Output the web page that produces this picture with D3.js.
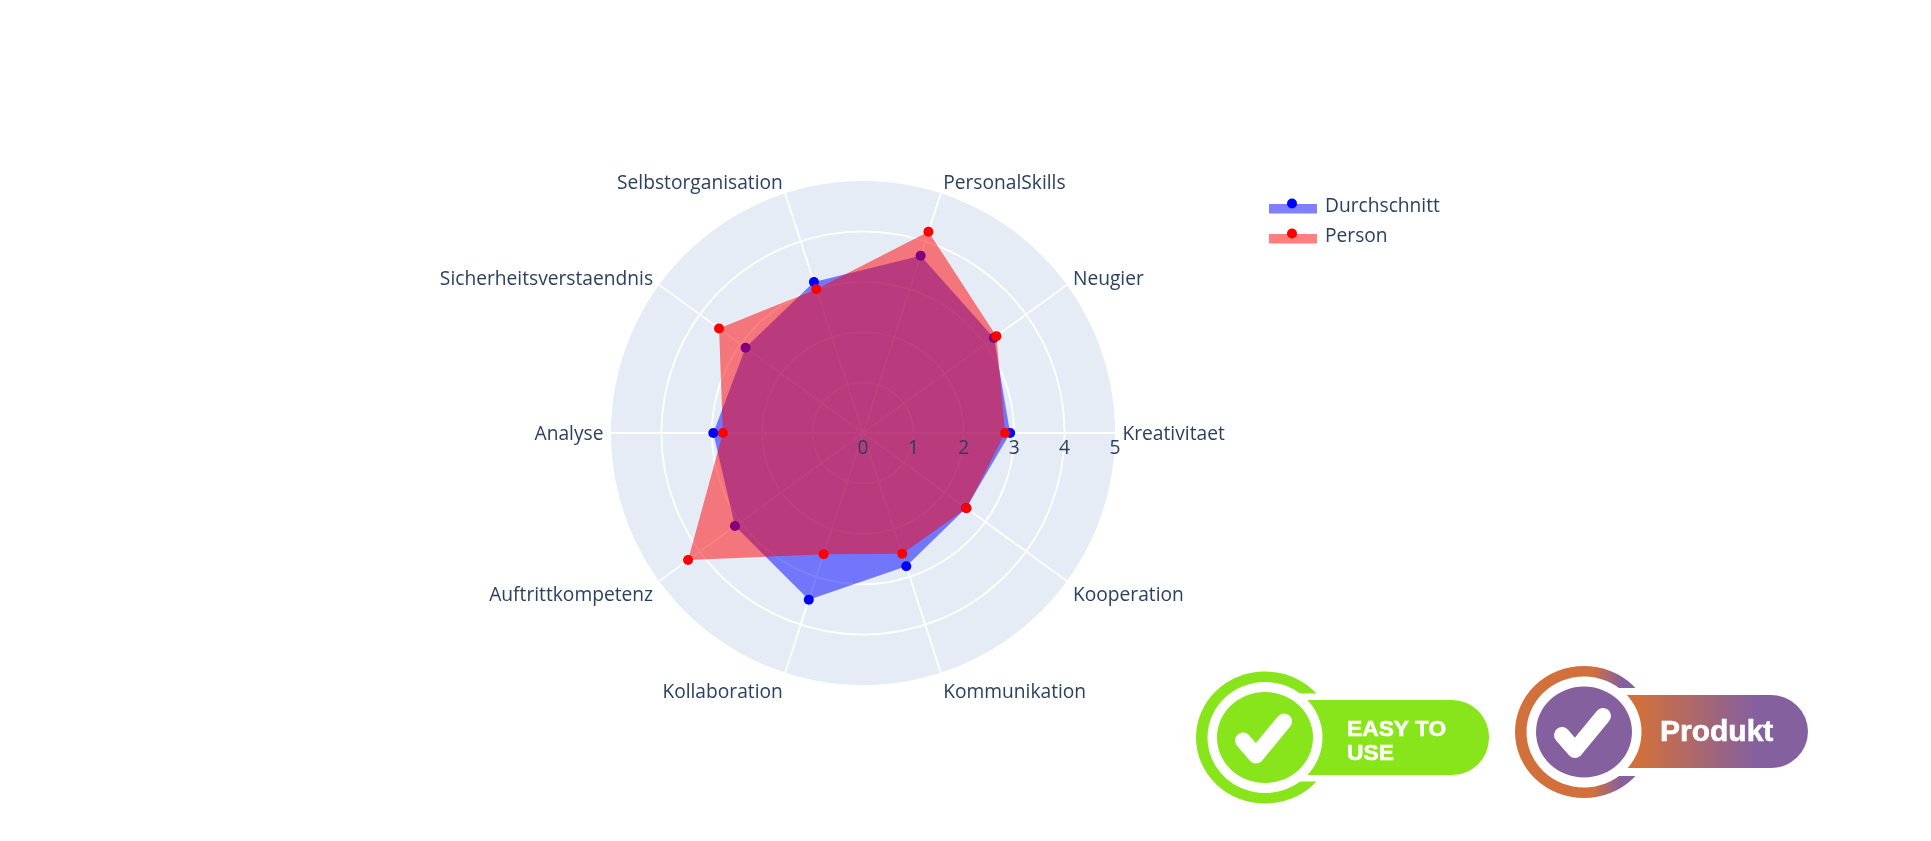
<!DOCTYPE HTML>
<head>
    <meta charset="utf-8">
    <script src="https://cdnjs.cloudflare.com/ajax/libs/d3/7.8.5/d3.min.js"></script>
</head>

<body>
    <svg width="1931" height="841"></svg>
</body>

<style>
body { margin: 0; background: #fff; }
svg { display: block; }
.label { font-family: "Open Sans", sans-serif; font-size: 19.2px; fill: #2a3f5f; }
.badgeText { font-family: "Liberation Sans", Arial, sans-serif; font-weight: bold; fill: #fff; stroke: #fff; stroke-width: 0.6px; }
</style>

<script>
    var categories = ["Kreativitaet", "Neugier", "PersonalSkills", "Selbstorganisation", "Sicherheitsverstaendnis",
        "Analyse", "Auftrittkompetenz", "Kollaboration", "Kommunikation", "Kooperation"];
    var durchschnitt = [2.92, 3.21, 3.70, 3.15, 2.88, 2.97, 3.14, 3.48, 2.78, 2.53];
    var person = [2.82, 3.27, 4.20, 3.00, 3.53, 2.78, 4.29, 2.53, 2.52, 2.54];
    var radialTicks = [0, 1, 2, 3, 4, 5];

    var cx = 863, cy = 433, R = 252;

    var svg = d3.select("svg");

    // the source is an upscaled screenshot, so soften it a little
    var defs = svg.append("defs");
    defs.append("filter").attr("id", "soft")
        .append("feGaussianBlur").attr("stdDeviation", 0.7);

    var r = d3.scaleLinear().domain([0, 5]).range([0, R]);

    // angles go counter clockwise from the right, like the plotly polar default
    var angle = d3.scalePoint().domain(categories.concat("end")).range([0, 2 * Math.PI]);

    function px(rad, a) { return rad * Math.cos(a); }
    function py(rad, a) { return -rad * Math.sin(a); }

    var g = svg.append("g")
        .attr("transform", "translate(" + cx + "," + cy + ")")
        .attr("filter", "url(#soft)");

    g.append("circle").attr("r", r(5)).attr("fill", "#e5ecf6");

    g.selectAll(".ring")
        .data(radialTicks.slice(1, 5))
        .enter().append("circle")
        .attr("class", "ring")
        .attr("r", function(d) { return r(d); })
        .attr("fill", "none")
        .attr("stroke", "#fff")
        .attr("stroke-width", 1.8);

    g.selectAll(".spoke")
        .data(categories)
        .enter().append("line")
        .attr("class", "spoke")
        .attr("x2", function(d) { return px(r(5), angle(d)); })
        .attr("y2", function(d) { return py(r(5), angle(d)); })
        .attr("stroke", "#fff")
        .attr("stroke-width", 1.8);

    function drawSeries(values, color) {
        var points = values.map(function(v, i) {
            var a = angle(categories[i]);
            return [px(r(v), a), py(r(v), a)];
        });
        g.append("path")
            .attr("d", d3.line().curve(d3.curveLinearClosed)(points))
            .attr("fill", color)
            .attr("fill-opacity", 0.5);
        g.selectAll(null)
            .data(points)
            .enter().append("circle")
            .attr("cx", function(d) { return d[0]; })
            .attr("cy", function(d) { return d[1]; })
            .attr("r", 5)
            .attr("fill", color);
    }

    drawSeries(durchschnitt, "#0000ff");
    drawSeries(person, "#ff0000");

    g.selectAll(".tick")
        .data(radialTicks)
        .enter().append("text")
        .attr("class", "label")
        .attr("x", function(d) { return r(d); })
        .attr("y", 14)
        .attr("dy", "0.35em")
        .attr("text-anchor", "middle")
        .text(function(d) { return d; });

    // labels in the lower half sit further from the circle than the upper ones
    function labelDy(a) {
        var s = Math.sin(a);
        return s >= 0 ? -12 * s : 4 - 15 * s;
    }

    g.selectAll(".cat")
        .data(categories)
        .enter().append("text")
        .attr("class", "label")
        .attr("x", function(d) { return px(r(5), angle(d)) + 7.5 * Math.cos(angle(d)); })
        .attr("y", function(d) { return py(r(5), angle(d)) + labelDy(angle(d)); })
        .attr("dy", "0.35em")
        .attr("text-anchor", function(d) { return Math.cos(angle(d)) > 0 ? "start" : "end"; })
        .text(function(d) { return d; });

    // legend
    var legendNames = ["Durchschnitt", "Person"];
    var legendColors = ["#0000ff", "#ff0000"];
    var legendY = d3.scalePoint().domain(legendNames).range([205, 235]);

    var legend = svg.append("g").attr("filter", "url(#soft)");
    legendNames.forEach(function(name, i) {
        var y = legendY(name);
        legend.append("rect")
            .attr("x", 1269).attr("y", y - 1)
            .attr("width", 48).attr("height", 9.5)
            .attr("fill", legendColors[i]).attr("fill-opacity", 0.5);
        legend.append("circle")
            .attr("cx", 1292).attr("cy", y - 1.5)
            .attr("r", 5)
            .attr("fill", legendColors[i]);
        legend.append("text")
            .attr("class", "label")
            .attr("x", 1325).attr("y", y)
            .attr("dy", "0.35em")
            .text(name);
    });

    // the two badges bottom right
    function drawBadge(o) {
        var b = svg.append("g").attr("filter", "url(#soft)");
        b.append("ellipse")
            .attr("cx", o.cx).attr("cy", o.cy)
            .attr("rx", 69).attr("ry", 66)
            .attr("fill", o.ringFill);
        // gap in the outer ring where the pill comes out
        b.append("rect")
            .attr("x", o.cx + 30).attr("y", o.cy - 44)
            .attr("width", 60).attr("height", 88)
            .attr("fill", "#fff");
        b.append("rect")
            .attr("x", o.cx + 40).attr("y", o.pillTop)
            .attr("width", o.pillRight - o.cx - 40).attr("height", o.pillHeight)
            .attr("rx", 37).attr("ry", 37)
            .attr("fill", o.pillFill);
        b.append("rect")
            .attr("x", o.cx + 40).attr("y", o.pillTop)
            .attr("width", 50).attr("height", o.pillHeight)
            .attr("fill", o.pillFill);
        b.append("ellipse")
            .attr("cx", o.cx).attr("cy", o.cy)
            .attr("rx", 57.5).attr("ry", 55.5)
            .attr("fill", "#fff");
        b.append("ellipse")
            .attr("cx", o.cx).attr("cy", o.cy)
            .attr("rx", 48).attr("ry", 45.5)
            .attr("fill", o.discFill);
        b.append("path")
            .attr("d", d3.line()([[o.cx - 22, o.cy + 3], [o.cx - 9, o.cy + 18], [o.cx + 19, o.cy - 16]]))
            .attr("fill", "none")
            .attr("stroke", "#fff")
            .attr("stroke-width", 16)
            .attr("stroke-linecap", "round")
            .attr("stroke-linejoin", "round");
        o.text.forEach(function(t) {
            b.append("text")
                .attr("class", "badgeText")
                .attr("x", t.x).attr("y", t.y)
                .attr("font-size", t.size)
                .text(t.label);
        });
    }

    var ringGrad = defs.append("linearGradient").attr("id", "ringGrad")
        .attr("gradientUnits", "userSpaceOnUse")
        .attr("x1", 1592).attr("x2", 1622).attr("y1", 0).attr("y2", 0);
    ringGrad.append("stop").attr("offset", 0).attr("stop-color", "#d2703a");
    ringGrad.append("stop").attr("offset", 1).attr("stop-color", "#85609f");

    var pillGrad = defs.append("linearGradient").attr("id", "pillGrad")
        .attr("gradientUnits", "userSpaceOnUse")
        .attr("x1", 1637).attr("x2", 1755).attr("y1", 0).attr("y2", 0);
    pillGrad.append("stop").attr("offset", 0).attr("stop-color", "#d2703a");
    pillGrad.append("stop").attr("offset", 1).attr("stop-color", "#85609f");

    drawBadge({
        cx: 1265, cy: 737.5,
        ringFill: "#88e51a", pillFill: "#88e51a", discFill: "#88e51a",
        pillTop: 700, pillHeight: 75, pillRight: 1489,
        text: [
            {label: "EASY TO", x: 1347, y: 736, size: 22.8},
            {label: "USE", x: 1347, y: 760, size: 22.8}
        ]
    });

    drawBadge({
        cx: 1584, cy: 732,
        ringFill: "url(#ringGrad)", pillFill: "url(#pillGrad)", discFill: "#85609f",
        pillTop: 695, pillHeight: 73, pillRight: 1808,
        text: [
            {label: "Produkt", x: 1660, y: 741, size: 30}
        ]
    });
</script>
